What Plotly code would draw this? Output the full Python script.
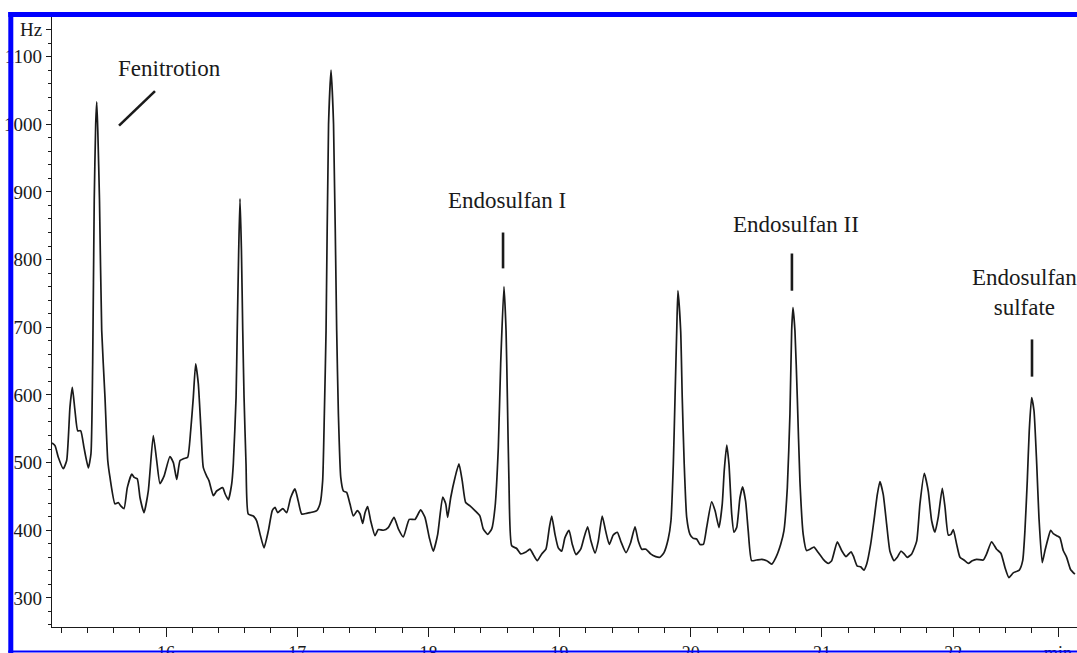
import plotly.graph_objects as go

# Chromatogram trace: retention time (min) and detector signal (Hz)
time_min = [
    15.131, 15.154, 15.179, 15.217, 15.243, 15.268, 15.286, 15.306, 15.327, 15.350,
    15.375, 15.408, 15.428, 15.441, 15.453, 15.464, 15.472, 15.480, 15.493, 15.510,
    15.535, 15.556, 15.573, 15.611, 15.636, 15.655, 15.680, 15.705, 15.739, 15.758,
    15.781, 15.802, 15.832, 15.865, 15.903, 15.929, 15.954, 15.985, 16.030, 16.056,
    16.082, 16.107, 16.137, 16.165, 16.188, 16.208, 16.226, 16.246, 16.267, 16.284,
    16.310, 16.328, 16.361, 16.386, 16.432, 16.450, 16.475, 16.501, 16.513, 16.534,
    16.543, 16.554, 16.564, 16.575, 16.585, 16.595, 16.610, 16.627, 16.665, 16.691,
    16.716, 16.747, 16.780, 16.810, 16.831, 16.851, 16.890, 16.920, 16.950, 16.983,
    17.008, 17.034, 17.072, 17.098, 17.149, 17.174, 17.194, 17.207, 17.220, 17.239,
    17.258, 17.277, 17.301, 17.314, 17.332, 17.352, 17.377, 17.402, 17.428, 17.458,
    17.479, 17.499, 17.517, 17.537, 17.560, 17.593, 17.618, 17.656, 17.694, 17.738,
    17.771, 17.809, 17.854, 17.898, 17.941, 17.974, 18.007, 18.037, 18.071, 18.109,
    18.132, 18.147, 18.170, 18.203, 18.233, 18.258, 18.284, 18.317, 18.355, 18.393,
    18.418, 18.452, 18.483, 18.508, 18.533, 18.551, 18.576, 18.592, 18.602, 18.614,
    18.635, 18.673, 18.704, 18.744, 18.774, 18.800, 18.830, 18.864, 18.896, 18.922,
    18.940, 18.965, 18.990, 19.016, 19.041, 19.072, 19.097, 19.125, 19.161, 19.186,
    19.214, 19.239, 19.270, 19.295, 19.325, 19.351, 19.379, 19.409, 19.440, 19.466,
    19.506, 19.542, 19.575, 19.600, 19.626, 19.659, 19.694, 19.733, 19.765, 19.796,
    19.828, 19.849, 19.867, 19.880, 19.893, 19.902, 19.923, 19.935, 19.950, 19.969,
    19.994, 20.019, 20.045, 20.070, 20.096, 20.121, 20.159, 20.185, 20.215, 20.240,
    20.255, 20.274, 20.291, 20.312, 20.329, 20.350, 20.375, 20.395, 20.418, 20.438,
    20.464, 20.502, 20.540, 20.579, 20.617, 20.649, 20.685, 20.710, 20.736, 20.756,
    20.769, 20.779, 20.794, 20.812, 20.832, 20.857, 20.883, 20.909, 20.939, 20.972,
    21.010, 21.048, 21.074, 21.117, 21.150, 21.183, 21.221, 21.239, 21.269, 21.295,
    21.320, 21.341, 21.371, 21.396, 21.422, 21.442, 21.467, 21.493, 21.518, 21.549,
    21.574, 21.602, 21.627, 21.650, 21.684, 21.722, 21.747, 21.780, 21.810, 21.836,
    21.861, 21.886, 21.917, 21.938, 21.963, 21.983, 22.001, 22.027, 22.052, 22.082,
    22.115, 22.146, 22.179, 22.229, 22.255, 22.293, 22.331, 22.364, 22.395, 22.425,
    22.458, 22.504, 22.530, 22.547, 22.565, 22.580, 22.598, 22.616, 22.637, 22.654,
    22.679, 22.700, 22.725, 22.743, 22.763, 22.789, 22.814, 22.839, 22.865, 22.895,
    22.928,
]
signal_hz = [
    529, 525, 508, 491, 503, 582, 611, 577, 547, 547,
    522, 492, 513, 646, 888, 1000, 1033, 991, 888, 695,
    596, 503, 478, 439, 441, 436, 432, 463, 483, 478,
    476, 448, 426, 458, 540, 503, 469, 480, 509, 500,
    475, 503, 506, 508, 547, 596, 646, 617, 547, 493,
    480, 473, 451, 458, 463, 454, 445, 469, 498, 596,
    695, 813, 890, 813, 695, 596, 498, 424, 421, 414,
    395, 374, 399, 429, 434, 426, 432, 426, 448, 461,
    443, 424, 425, 426, 429, 439, 473, 572, 695, 1000,
    1080, 1000, 695, 572, 478, 458, 456, 439, 421, 429,
    424, 410, 426, 435, 414, 392, 401, 400, 404, 419,
    402, 390, 416, 416, 430, 419, 389, 369, 394, 449,
    439, 419, 448, 478, 498, 473, 441, 436, 429, 421,
    402, 394, 402, 434, 522, 646, 760, 695, 596, 473,
    377, 373, 365, 368, 372, 364, 355, 365, 372, 404,
    421, 394, 374, 369, 389, 400, 379, 364, 372, 389,
    405, 384, 366, 384, 421, 399, 379, 393, 397, 384,
    367, 382, 405, 384, 372, 372, 365, 361, 360, 367,
    387, 414, 498, 596, 695, 754, 695, 596, 498, 419,
    394, 388, 387, 379, 379, 404, 442, 429, 404, 439,
    488, 526, 498, 424, 397, 404, 448, 464, 443, 399,
    355, 356, 357, 355, 350, 360, 379, 399, 463, 572,
    695, 729, 695, 596, 473, 394, 370, 372, 375, 367,
    357, 351, 355, 383, 370, 361, 368, 362, 347, 346,
    341, 350, 379, 414, 453, 472, 453, 409, 369, 355,
    360, 369, 365, 360, 365, 384, 439, 484, 458, 414,
    397, 419, 462, 434, 393, 394, 401, 379, 360, 356,
    351, 355, 357, 356, 365, 383, 372, 366, 345, 330,
    337, 341, 355, 399, 473, 547, 596, 577, 498, 419,
    352, 370, 389, 400, 395, 392, 389, 370, 360, 342,
    335,
]

# Axis ticks
x_tick_vals = [16, 17, 18, 19, 20, 21, 22, 22.8]
x_tick_text = ["16", "17", "18", "19", "20", "21", "22", "min"]
y_tick_vals = [300, 400, 500, 600, 700, 800, 900, 1000, 1100, 1140]
y_tick_text = ["300", "400", "500", "600", "700", "800", "900", "1000", "1100", "Hz"]

# Peak labels: name, label position (min, Hz), marker segment (t0, v0, t1, v1)
peak_names = ["Fenitrotion", "Endosulfan I", "Endosulfan II", "Endosulfan<br>sulfate"]
label_t = [16.030, 18.599, 20.802, 22.547]
label_v = [1083, 887, 852, 751]
mark_t0 = [15.642, 18.569, 20.771, 22.601]
mark_v0 = [998, 787, 754, 627]
mark_t1 = [15.916, 18.569, 20.771, 22.601]
mark_v1 = [1049, 840, 809, 682]

FONT = "Liberation Serif"
INK = "#1a1a1a"
BLUE = "#0000ff"

fig = go.Figure()
fig.add_trace(go.Scatter(
    x=time_min, y=signal_hz, mode="lines",
    line=dict(color=INK, width=1.7, shape="spline", smoothing=0.5),
    showlegend=False, hoverinfo="skip",
))

for name, lt, lv in zip(peak_names, label_t, label_v):
    fig.add_annotation(x=lt, y=lv, xref="x", yref="y", text=name, showarrow=False,
                       xanchor="center", yanchor="middle",
                       font=dict(family=FONT, size=23, color=INK))

for t0, v0, t1, v1 in zip(mark_t0, mark_v0, mark_t1, mark_v1):
    fig.add_shape(type="line", xref="x", yref="y", x0=t0, y0=v0, x1=t1, y1=v1,
                  line=dict(color=INK, width=2.6))

# Blue frame around the picture (paper coordinates, outside the plotting area)
W_PLOT = 1025.0
H_PLOT = 611.0
def px_x(px):
    return (px - 52.0) / W_PLOT
def px_y(py):
    return (627.0 - py) / H_PLOT

fig.add_shape(type="line", xref="paper", yref="paper", layer="above",
              x0=px_x(10.8), x1=px_x(10.8), y0=px_y(12), y1=px_y(653),
              line=dict(color=BLUE, width=5))
fig.add_shape(type="line", xref="paper", yref="paper", layer="above",
              x0=px_x(8.3), x1=px_x(1085), y0=px_y(14.5), y1=px_y(14.5),
              line=dict(color=BLUE, width=5))
fig.add_shape(type="line", xref="paper", yref="paper", layer="above",
              x0=px_x(8.3), x1=px_x(1085), y0=px_y(651.5), y1=px_y(651.5),
              line=dict(color=BLUE, width=2))

fig.update_layout(
    width=1077, height=653,
    margin=dict(l=52, r=0, t=16, b=26, pad=0, autoexpand=False),
    paper_bgcolor="white", plot_bgcolor="white",
    font=dict(family=FONT, size=18, color=INK),
    xaxis=dict(
        range=[15.131, 22.944], showgrid=False, zeroline=False,
        showline=True, linecolor=INK, linewidth=1.2,
        tickmode="array", tickvals=x_tick_vals, ticktext=x_tick_text,
        ticks="outside", ticklen=9, tickwidth=1.2, tickcolor=INK,
        tickfont=dict(family=FONT, size=18, color=INK),
        minor=dict(tickmode="linear", tick0=15.0, dtick=0.2, ticks="outside",
                   ticklen=5, tickwidth=1.1, tickcolor=INK, showgrid=False),
    ),
    yaxis=dict(
        range=[257, 1160], showgrid=False, zeroline=False,
        showline=True, linecolor=INK, linewidth=1.2,
        tickmode="array", tickvals=y_tick_vals, ticktext=y_tick_text,
        ticks="outside", ticklen=5, tickwidth=1.2, tickcolor=INK,
        tickfont=dict(family=FONT, size=19, color=INK),
        minor=dict(tickmode="linear", tick0=300, dtick=20, ticks="outside",
                   ticklen=3, tickwidth=1.1, tickcolor=INK, showgrid=False),
    ),
)

fig.write_html("out.html", config={"displayModeBar": False},
               post_script="document.body.style.margin='0';")
